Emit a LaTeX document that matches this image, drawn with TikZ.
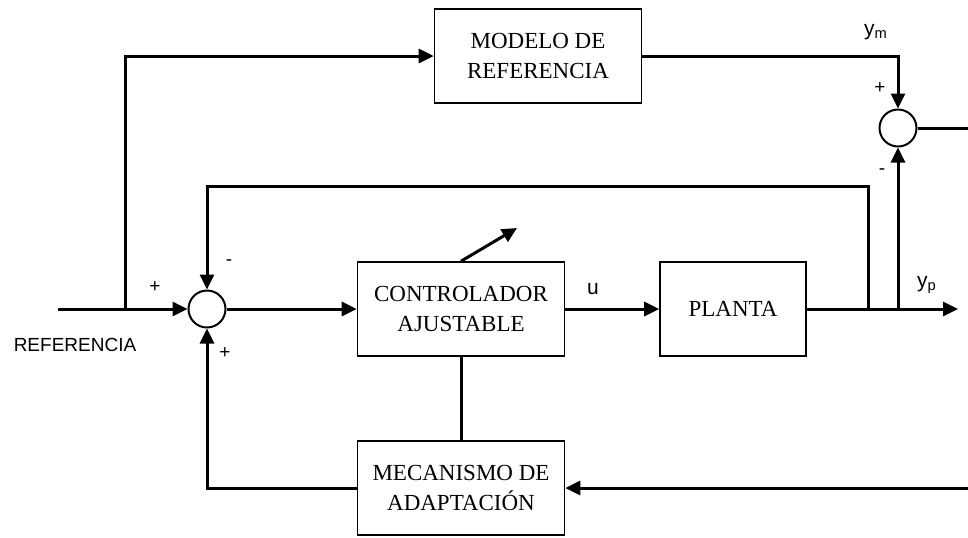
\documentclass[tikz,border=0pt]{standalone}
\usepackage{fontspec}
\setmainfont{Liberation Serif}
\setsansfont{Liberation Sans}
\usetikzlibrary{arrows.meta}
\tikzset{
  block/.style={draw,line width=0.8pt,minimum width=103.5pt,minimum height=47pt,align=center,font=\fontsize{11.5}{15}\selectfont},% bloques
  sumnode/.style={circle,draw,line width=1pt,minimum size=18.5pt,inner sep=0pt},% sumadores
  sig/.style={line width=1.5pt,-{Triangle[length=7.5pt,width=7pt]}},
  wire/.style={line width=1.5pt},
  lbl/.style={font=\sffamily\fontsize{9.5}{11}\selectfont},
}

\begin{document}
\begin{tikzpicture}[x=0.5pt,y=-0.5pt]
  \useasboundingbox (0,0) rectangle (968,537);
  % bloques
  \node[block] (modelo) at (538,56) {MODELO DE\\REFERENCIA};
  \node[block] (ctrl) at (461,309) {CONTROLADOR\\AJUSTABLE};
  \node[block,minimum width=73pt] (planta) at (733,309) {PLANTA};
  \node[block] (mecan) at (461,488) {MECANISMO DE\\ADAPTACIÓN};
  \node[sumnode] (suma) at (207,309) {};
  \node[sumnode] (sumb) at (898,128) {};
  % puntos de paso
  \coordinate (ref) at (58,309);
  \coordinate (rama) at (125,309);
  \coordinate (salida) at (958,309);
  \coordinate (tapa) at (868,309);
  \coordinate (tapb) at (898,309);
  \coordinate (fb) at (868,186);
  \coordinate (error) at (968,128);
  \coordinate (errin) at (968,488);
  \coordinate (ajuste) at (517,228);
  % conexiones
  \draw[sig] (ref) -- (suma);
  \draw[sig] (rama) |- (modelo);
  \draw[sig] (modelo) -| (sumb);
  \draw[wire] (sumb) -- (error);
  \draw[sig] (suma) -- (ctrl);
  \draw[sig] (ctrl) -- (planta);
  \draw[sig] (planta) -- (salida);
  \draw[sig] (tapa) -- (fb) -| (suma);
  \draw[sig] (tapb) -- (sumb);
  \draw[sig] (errin) -- (mecan);
  \draw[sig] (mecan) -| (suma);
  \draw[wire] (mecan) -- (ctrl);
  \draw[sig] (ctrl.north) -- (ajuste);
  % etiquetas
  \node[lbl] (reftxt) at (75,345) {REFERENCIA};
  \node[lbl] (masa) at (155,287) {+};
  \node[lbl] (menosa) at (229,263) {-};
  \node[lbl] (masb) at (225,353) {+};
  \node[lbl] (masc) at (880,88) {+};
  \node[lbl] (menosb) at (882,172) {-};
  \node[lbl,font=\sffamily\fontsize{10.5}{12}\selectfont] (ym) at (876,32) {y\textsubscript{m}};
  \node[lbl,font=\sffamily\fontsize{10.5}{12}\selectfont] (yp) at (927,285) {y\textsubscript{p}};
  \node[lbl,font=\sffamily\fontsize{10.5}{12}\selectfont] (u) at (593,289) {u};
\end{tikzpicture}
\end{document}
